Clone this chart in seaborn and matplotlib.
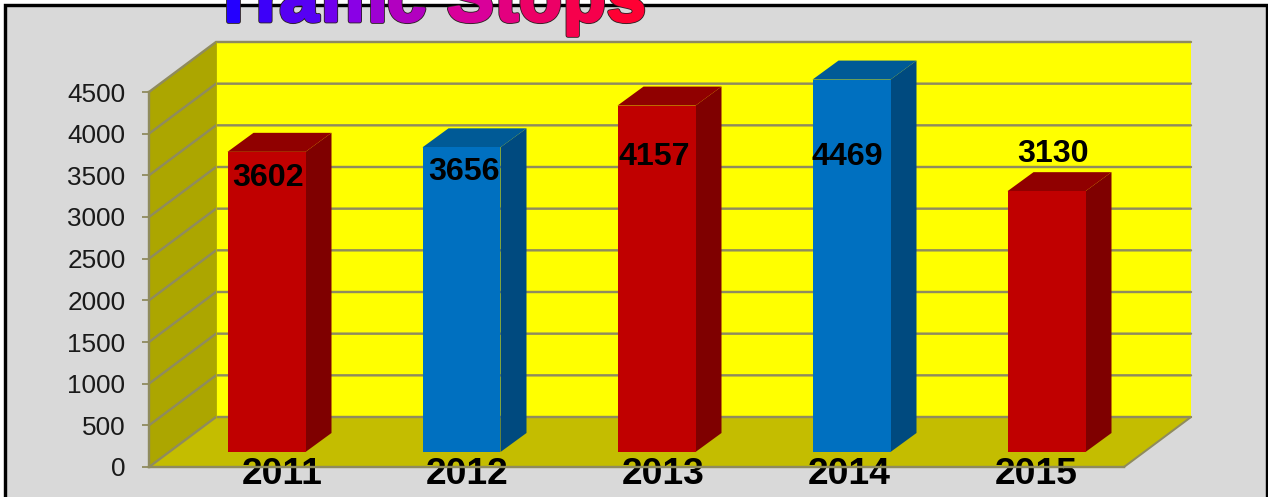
import matplotlib
matplotlib.use("Agg")
import matplotlib.pyplot as plt
import matplotlib.patheffects as pe
from matplotlib.colors import LinearSegmentedColormap
from matplotlib.patches import Polygon, Rectangle
from matplotlib.transforms import ScaledTranslation
import pandas as pd
import seaborn as sns

# datos
years = ["2011", "2012", "2013", "2014", "2015"]
stops = [3602, 3656, 4157, 4469, 3130]
y_ticks = [0, 500, 1000, 1500, 2000, 2500, 3000, 3500, 4000, 4500]
title = "Traffic Stops"

front_colors = ["#c00000", "#0070c0", "#c00000", "#0070c0", "#c00000"]
side_colors = ["#7f0000", "#004a7f", "#7f0000", "#004a7f", "#7f0000"]
top_colors = ["#900000", "#005a96", "#900000", "#005a96", "#900000"]

# ajustes a mano de las etiquetas, en pixeles
label_dx = [2, 2, -2, -4, 7]
label_dy = [-26, -25, -51, -77, 37]
year_dx = [35.5, 25.5, 26.5, 17.5, 9.5]

W, H = 1268, 497
PX = 72 / 100  # pixeles a puntos
GRID = "#8f8b5e"

# la "profundidad" 3D en unidades de datos (195 px por categoria, 12 valores por px)
WALL_DX, WALL_DY = 67 / 195, 600
BAR_X, BAR_Y = 20 / 195, 180
BAR_DX, BAR_DY = 26 / 195, 228

df = pd.DataFrame({"year": years, "stops": stops})

sns.set_style("white")
plt.rcParams["font.family"] = ["Liberation Sans", "DejaVu Sans"]

fig = plt.figure(figsize=(W / 100, H / 100), dpi=100, facecolor="white")
fig.add_artist(Rectangle((4.5 / W, -0.1), 1262 / W, 1 + 0.1 - 4.5 / H, transform=fig.transFigure,
                         facecolor="#d9d9d9", edgecolor="black", linewidth=3.4 * PX, zorder=-1))

ax = fig.add_axes([149 / W, 30 / H, 975 / W, 375 / H])
ax.patch.set_visible(False)

sns.barplot(data=df, x="year", y="stops", hue="year", palette=front_colors,
            legend=False, width=0.4, saturation=1, ax=ax, zorder=3)
ax.set_xlim(-0.5, 4.5)
ax.set_ylim(0, 4500)
ax.set_xlabel("")
ax.set_ylabel("")


def poly(points, color, z):
    ax.add_patch(Polygon(points, closed=True, facecolor=color, edgecolor="none",
                         clip_on=False, zorder=z))


# paredes y piso
x0, x1 = -0.5, 4.5
poly([(x0 + WALL_DX, WALL_DY), (x1 + WALL_DX, WALL_DY), (x1 + WALL_DX, 4500 + WALL_DY),
      (x0 + WALL_DX, 4500 + WALL_DY)], "#ffff00", 0.5)
poly([(x0, 0), (x0, 4500), (x0 + WALL_DX, 4500 + WALL_DY), (x0 + WALL_DX, WALL_DY)], "#aca600", 0.5)
poly([(x0, 0), (x1, 0), (x1 + WALL_DX, WALL_DY), (x0 + WALL_DX, WALL_DY)], "#c4bd00", 0.5)

# lineas de la reticula
for v in y_ticks:
    ax.plot([x0, x0 + WALL_DX, x1 + WALL_DX], [v, v + WALL_DY, v + WALL_DY], color=GRID,
            lw=2.4 * PX, clip_on=False, zorder=1, solid_joinstyle="miter")
ax.plot([x0 + WALL_DX, x0 + WALL_DX], [WALL_DY, 4500 + WALL_DY], color="#b5b000",
        lw=1 * PX, clip_on=False, zorder=1)
ax.plot([x1, x1 + WALL_DX], [0, WALL_DY], color=GRID, lw=2 * PX, clip_on=False, zorder=1)

# barras: se mueven hacia atras y se les agrega lado y tapa
for i, bar in enumerate(ax.patches[:len(stops)]):
    bar.set_x(bar.get_x() + BAR_X)
    bar.set_y(BAR_Y)
    bar.set_clip_on(False)
    bar.set_linewidth(0)
    left = bar.get_x()
    right = left + bar.get_width()
    top = BAR_Y + stops[i]
    poly([(right, BAR_Y), (right + BAR_DX, BAR_Y + BAR_DY), (right + BAR_DX, top + BAR_DY),
          (right, top)], side_colors[i], 2.5)
    poly([(left, top), (right, top), (right + BAR_DX, top + BAR_DY), (left + BAR_DX, top + BAR_DY)],
         top_colors[i], 2.5)
    ax.annotate(str(stops[i]), (i + BAR_X, top), xytext=(label_dx[i] * PX, label_dy[i] * PX),
                textcoords="offset points", ha="center", va="center", fontsize=23.2,
                fontweight="bold", color="black", zorder=6, annotation_clip=False)

# ejes
for s in ["top", "right"]:
    ax.spines[s].set_visible(False)
for s in ["left", "bottom"]:
    ax.spines[s].set_color(GRID)
    ax.spines[s].set_linewidth(2.4 * PX)
    ax.spines[s].set_zorder(1.5)

ax.set_yticks(y_ticks)
ax.tick_params(axis="y", left=True, length=5, width=1.8 * PX, color=GRID, pad=12,
               labelsize=18.8, labelcolor="#1a1a1a")
ax.set_xticks(range(len(years)))
ax.set_xticklabels(years)
ax.tick_params(axis="x", bottom=False, pad=0, labelsize=26.8)
for i, lab in enumerate(ax.get_xticklabels()):
    lab.set_fontweight("bold")
    lab.set_color("black")
    lab.set_transform(lab.get_transform() + ScaledTranslation(year_dx[i] / 100, 15 / 100, fig.dpi_scale_trans))

# titulo con degradado, letra por letra
cmap = LinearSegmentedColormap.from_list("wordart", ["#2400ff", "#8a00e6", "#d9009a", "#ff0033"])
fsize = 50
title_left, title_width, baseline = 212, 435, 21
rend = fig.canvas.get_renderer()
probe = fig.text(0, 0, title, fontsize=fsize, fontweight="bold")
prop = probe.get_fontproperties()
full = rend.get_text_width_height_descent(title, prop, False)[0]
probe.remove()
for i, ch in enumerate(title):
    if ch == " ":
        continue
    adv = rend.get_text_width_height_descent(title[:i], prop, False)[0] if i else 0
    px = title_left + adv * title_width / full
    col = cmap(i / (len(title) - 1))
    fig.text(px / W, 1 - baseline / H, ch, fontsize=fsize, fontweight="bold", va="baseline", ha="left",
             color=col, zorder=10 + i,
             path_effects=[pe.Stroke(linewidth=3.4, foreground="#2a2020"),
                           pe.Stroke(linewidth=2.2, foreground=col), pe.Normal()])

fig.savefig("out.png", dpi=100, facecolor=fig.get_facecolor())
